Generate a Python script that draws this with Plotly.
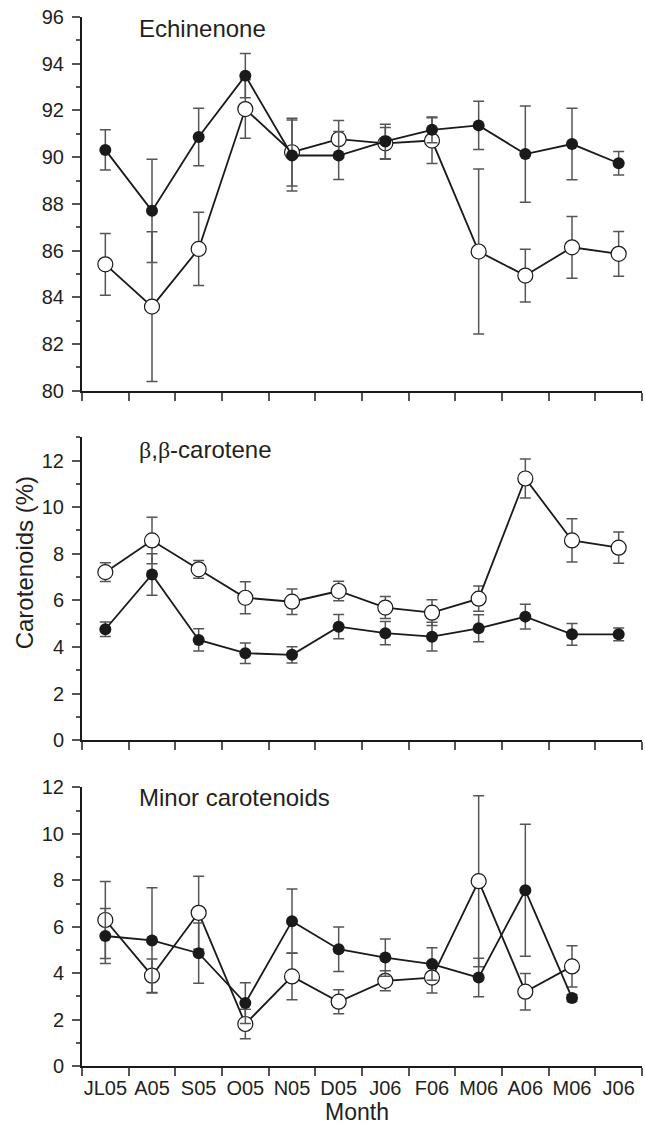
import plotly.graph_objects as go

months = ["JL05", "A05", "S05", "O05", "N05", "D05", "J06", "F06", "M06", "A06", "M06", "J06"]

# Echinenone
ech_filled = [90.31, 87.70, 90.86, 93.49, 90.07, 90.07, 90.67, 91.17, 91.36, 90.13, 90.56, 89.74]
ech_filled_se = [0.86, 2.21, 1.23, 0.95, 1.52, 1.03, 0.74, 0.55, 1.03, 2.06, 1.53, 0.50]
ech_open = [85.41, 83.60, 86.07, 92.06, 90.21, 90.77, 90.59, 90.71, 85.96, 84.93, 86.14, 85.86]
ech_open_se = [1.32, 3.21, 1.57, 1.25, 1.45, 0.80, 0.68, 0.98, 3.53, 1.13, 1.32, 0.96]

# beta,beta-carotene
bc_filled = [4.76, 7.11, 4.30, 3.73, 3.66, 4.87, 4.59, 4.44, 4.80, 5.30, 4.54, 4.54]
bc_filled_se = [0.31, 0.89, 0.48, 0.44, 0.35, 0.52, 0.50, 0.62, 0.58, 0.53, 0.47, 0.27]
bc_open = [7.21, 8.57, 7.33, 6.11, 5.94, 6.40, 5.69, 5.47, 6.07, 11.23, 8.57, 8.26]
bc_open_se = [0.40, 1.00, 0.38, 0.69, 0.55, 0.42, 0.47, 0.55, 0.54, 0.84, 0.93, 0.67]

# Minor carotenoids
mc_filled = [5.60, 5.41, 4.86, 2.71, 6.24, 5.03, 4.67, 4.39, 3.81, 7.57, 2.93, None]
mc_filled_se = [1.18, 2.27, 1.30, 0.88, 1.38, 0.96, 0.80, 0.70, 0.83, 2.84, 0.15, None]
mc_open = [6.29, 3.89, 6.60, 1.81, 3.86, 2.77, 3.67, 3.81, 7.96, 3.20, 4.29, None]
mc_open_se = [1.66, 0.72, 1.57, 0.64, 1.01, 0.52, 0.43, 0.67, 3.68, 0.79, 0.89, None]

panel_labels = ["Echinenone", "<span style='font-family:Liberation Serif'>β</span>,<span style='font-family:Liberation Serif'>β</span>-carotene", "Minor carotenoids"]

x_pos = [i + 0.5 for i in range(len(months))]
FONT = "Liberation Sans, Arial, sans-serif"
TXT = "#231f20"
ERR = "#555555"

fig = go.Figure()

panels = [
    (ech_open, ech_open_se, ech_filled, ech_filled_se, "x", "y"),
    (bc_open, bc_open_se, bc_filled, bc_filled_se, "x2", "y2"),
    (mc_open, mc_open_se, mc_filled, mc_filled_se, "x3", "y3"),
]

for o, ose, f, fse, xa, ya in panels:
    fig.add_trace(go.Scatter(
        x=x_pos, y=o, xaxis=xa, yaxis=ya, mode="lines+markers",
        line=dict(color="#1a1a1a", width=1.8),
        marker=dict(symbol="circle", size=15, color="white", line=dict(color="#1a1a1a", width=1.2)),
        error_y=dict(type="data", array=ose, visible=True, color=ERR, thickness=1.5, width=5.5),
        showlegend=False, cliponaxis=False,
    ))
    fig.add_trace(go.Scatter(
        x=x_pos, y=f, xaxis=xa, yaxis=ya, mode="lines+markers",
        line=dict(color="#1a1a1a", width=1.8),
        marker=dict(symbol="circle", size=12, color="#1a1a1a", line=dict(color="#1a1a1a", width=0)),
        error_y=dict(type="data", array=fse, visible=True, color=ERR, thickness=1.5, width=5.5),
        showlegend=False, cliponaxis=False,
    ))

H = 1048.4
def dom(top_px, bot_px):
    return [(1065.7 - bot_px) / H, (1065.7 - top_px) / H]

xcommon = dict(
    range=[0, 12], showline=True, linecolor="#1a1a1a", linewidth=2,
    tickvals=x_pos, ticktext=months, ticks="outside", ticklen=3, tickcolor="rgba(0,0,0,0)",
    minor=dict(tickvals=list(range(13)), ticks="outside", ticklen=8, tickwidth=1.5, tickcolor="#555555"),
    showgrid=False, zeroline=False, tickfont=dict(family=FONT, size=20, color=TXT),
)
ycommon = dict(
    showline=True, linecolor="#1a1a1a", linewidth=2, ticks="outside", ticklen=8, tickwidth=1.5,
    tickcolor="#555555", showgrid=False, zeroline=False,
    minor=dict(dtick=1, ticks="outside", ticklen=4, tickwidth=1.5, tickcolor="#555555"),
    tickfont=dict(family=FONT, size=20, color=TXT), ticklabelstandoff=4,
)

fig.update_layout(
    width=645, height=1127,
    margin=dict(l=81.7, r=3.3, t=17.3, b=61.3),
    paper_bgcolor="white", plot_bgcolor="white",
    xaxis=dict(**xcommon, anchor="y", showticklabels=False),
    xaxis2=dict(**xcommon, anchor="y2", showticklabels=False),
    xaxis3=dict(**xcommon, anchor="y3", showticklabels=True),
    yaxis=dict(**ycommon, domain=dom(17.3, 390.8), range=[80, 96], tickvals=list(range(80, 97, 2)), tick0=80),
    yaxis2=dict(**ycommon, domain=dom(437.3, 740.0), range=[0, 13], tickvals=list(range(0, 13, 2)), tick0=0),
    yaxis3=dict(**ycommon, domain=dom(787.3, 1065.7), range=[0, 12], tickvals=list(range(0, 13, 2)), tick0=0),
)

label_y = [0.970, 0.958, 0.965]
for i, (lab, yd) in enumerate(zip(panel_labels, label_y)):
    sfx = "" if i == 0 else str(i + 1)
    fig.add_annotation(text=lab, xref=f"x{sfx} domain", yref=f"y{sfx} domain", x=0.098, y=yd,
                       xanchor="left", yanchor="middle", showarrow=False,
                       font=dict(family=FONT, size=24, color=TXT))

fig.add_annotation(text="Carotenoids (%)", xref="paper", yref="paper",
                   x=(24 - 81.7) / 560, y=(1065.7 - 563) / H, textangle=-90,
                   xanchor="center", yanchor="middle", showarrow=False,
                   font=dict(family=FONT, size=24, color=TXT))
fig.add_annotation(text="Month", xref="paper", yref="paper",
                   x=(357 - 81.7) / 560, y=(1065.7 - 1112) / H,
                   xanchor="center", yanchor="middle", showarrow=False,
                   font=dict(family=FONT, size=23, color=TXT))

fig.write_html("out.html")
